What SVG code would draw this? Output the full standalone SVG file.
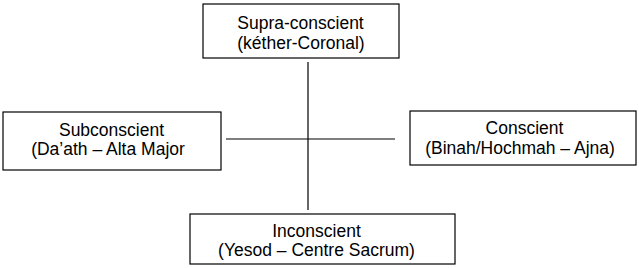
<svg xmlns="http://www.w3.org/2000/svg" width="639" height="268" viewBox="0 0 639 268">
<style>
.box{fill:#fff;stroke:#000;stroke-width:1.2}
.t{font-family:"Liberation Sans",Arial,sans-serif;font-size:17.5px;fill:#000;text-anchor:middle}
.c{stroke:#000;stroke-width:1.2;fill:none}
</style>
<rect width="639" height="268" fill="#fff"/>
<g id="connectors">
<line class="c" x1="308" y1="62" x2="308" y2="210"/>
<line class="c" x1="226" y1="139" x2="395" y2="139"/>
</g>
<g id="supra">
<rect class="box" x="203" y="4" width="196" height="54"/>
<text class="t" x="300.5" y="29">Supra-conscient</text>
<text class="t" x="301" y="48.5">(kéther-Coronal)</text>
</g>
<g id="sub">
<rect class="box" x="3" y="112" width="218" height="58"/>
<text class="t" x="111.5" y="135.5">Subconscient</text>
<text class="t" x="108" y="155">(Da’ath – Alta Major</text>
</g>
<g id="conscient">
<rect class="box" x="410" y="111" width="226" height="54"/>
<text class="t" x="524.5" y="134">Conscient</text>
<text class="t" x="520" y="153.5">(Binah/Hochmah – Ajna)</text>
</g>
<g id="inconscient">
<rect class="box" x="190" y="214" width="265" height="50"/>
<text class="t" x="316.5" y="236.5">Inconscient</text>
<text class="t" x="316.5" y="256">(Yesod – Centre Sacrum)</text>
</g>
</svg>
